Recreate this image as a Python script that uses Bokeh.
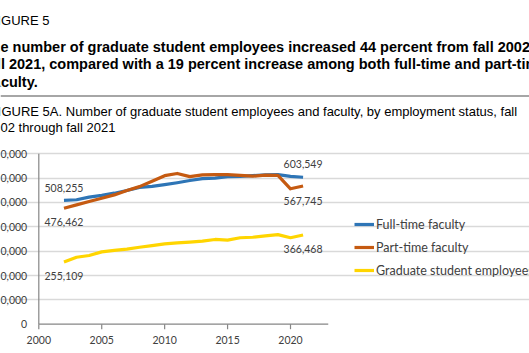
from bokeh.plotting import figure
from bokeh.models import (ColumnDataSource, Range1d, Grid, FixedTicker, Label,
                          Legend, LegendItem)
from bokeh.core.properties import value
from bokeh.embed import file_html
from bokeh.resources import INLINE

# ---------------- data ----------------
years = list(range(2002, 2022))
full_time = [508255, 511000, 522000, 529000, 538000, 549000, 562000, 566000, 573000, 581000,
             590000, 598000, 600000, 606000, 607000, 610000, 613000, 614000, 607000, 603549]
part_time = [476462, 490000, 504000, 517000, 531000, 549000, 565000, 587000, 610000, 619000,
             606000, 613000, 614000, 614000, 611000, 608000, 612000, 611000, 556000, 567745]
grad_emp = [255109, 275000, 282000, 297000, 303000, 308000, 316000, 323000, 330000, 334000,
            337000, 341000, 348000, 345000, 355000, 357000, 363000, 368000, 355000, 366468]
series_names = ["Full-time faculty", "Part-time faculty", "Graduate student employees"]
x_ticks = [2000, 2005, 2010, 2015, 2020]
y_ticks = [0, 100000, 200000, 300000, 400000, 500000, 600000, 700000]
x_end = 2023

fig_label = "FIGURE 5"
headline = ["The number of graduate student employees increased 44 percent from fall 2002 to",
            "fall 2021, compared with a 19 percent increase among both full-time and part-time",
            "faculty."]
caption = ["FIGURE 5A. Number of graduate student employees and faculty, by employment status, fall",
           "2002 through fall 2021"]

# ---------------- layout helpers (pixel -> data) ----------------
W, H = 529, 353
X0_PX, PX_PER_YEAR = 38.3, 12.585
Y0_PX, PX_PER_100K = 323.7, 24.35


def dx(px):
    return 2000 + (px - X0_PX) / PX_PER_YEAR


def dy(py):
    return (Y0_PX - py) / PX_PER_100K * 100000


p = figure(width=W, height=H, output_backend="svg", toolbar_location=None,
           x_axis_type=None, y_axis_type=None, min_border=0,
           x_range=Range1d(dx(0), dx(W)), y_range=Range1d(dy(H), dy(0)))
p.outline_line_color = None
p.background_fill_color = "white"
p.border_fill_color = "white"

LAB = "#404040"
AX = "#868686"

# gridlines
grid = Grid(dimension=1, ticker=FixedTicker(ticks=y_ticks[1:]), bounds=(x_ticks[0], x_end),
            grid_line_color="#d9d9d9", grid_line_width=1.6)
p.add_layout(grid)

# axis lines
p.segment(x0=[x_ticks[0]], y0=[y_ticks[0]], x1=[x_ticks[0]], y1=[y_ticks[-1]],
          line_color=AX, line_width=1.2)
p.segment(x0=[x_ticks[0]], y0=[0], x1=[x_end], y1=[0], line_color=AX, line_width=1.2)
tick_len = dy(Y0_PX) - dy(Y0_PX + 5)
p.segment(x0=x_ticks, y0=[0] * len(x_ticks), x1=x_ticks, y1=[-tick_len] * len(x_ticks),
          line_color=AX, line_width=1.2)

# tick labels
p.text(x=[dx(26.7)] * len(y_ticks), y=y_ticks, text=[f"{v:,}" for v in y_ticks],
       text_align="right", text_baseline="middle", text_font=value("Lato"),
       text_font_size="10.5px", text_color=LAB)
p.text(x=x_ticks, y=[dy(339.5)] * len(x_ticks), text=[str(v) for v in x_ticks],
       text_align="center", text_baseline="middle", text_font=value("Lato"),
       text_font_size="10.5px", text_color=LAB)

# series lines
colors = ["#2E75B6", "#C55A11", "#FFD500"]
renderers = []
for vals, c in zip([full_time, part_time, grad_emp], colors):
    r = p.line(years, vals, line_color=c, line_width=3.2, line_join="round")
    renderers.append(r)

# end value labels
lab_src = ColumnDataSource(dict(
    x=[years[0], years[-1], years[0], years[-1], years[0], years[-1]],
    y=[full_time[0], full_time[-1], part_time[0], part_time[-1], grad_emp[0], grad_emp[-1]],
    text=[f"{v:,}" for v in [full_time[0], full_time[-1], part_time[0], part_time[-1],
                             grad_emp[0], grad_emp[-1]]],
    off=[-12.5, -13, 14, 15, 14, 14],
))
p.text(x="x", y="y", text="text", y_offset="off", source=lab_src, text_align="center",
       text_baseline="middle", text_font=value("Lato"), text_font_size="10.5px",
       text_color=LAB)

# legend
legend = Legend(items=[LegendItem(label=n, renderers=[r]) for n, r in zip(series_names, renderers)],
                location=(354, 73), orientation="vertical", glyph_width=20, glyph_height=20,
                label_height=20, spacing=3, label_standoff=2, padding=0, margin=0,
                border_line_color=None, background_fill_alpha=0,
                label_text_font="Lato", label_text_font_size="12.5px", label_text_color=LAB)
p.add_layout(legend)

# header texts
def add_text(txt, px, py, size, bold=False, color="#000000"):
    p.add_layout(Label(x=dx(px), y=dy(py), text=txt, text_font="Liberation Sans",
                       text_font_size=size, text_font_style="bold" if bold else "normal",
                       text_color=color, text_baseline="alphabetic", text_align="left"))

add_text(fig_label, -11, 20, "13px")
add_text(headline[0], -17.7, 46, "14.5px", bold=True)
add_text(headline[1], -16.5, 63.5, "14.5px", bold=True)
add_text(headline[2], -12.5, 81, "14.5px", bold=True)
add_text(caption[0], -10.6, 111, "13px")
add_text(caption[1], -14.5, 127, "13px")

# separator rule
p.segment(x0=[dx(0)], y0=[dy(95.5)], x1=[dx(W)], y1=[dy(95.5)], line_color="#a6a6a6",
          line_width=2)

open("out.html", "w").write(file_html(p, INLINE))
